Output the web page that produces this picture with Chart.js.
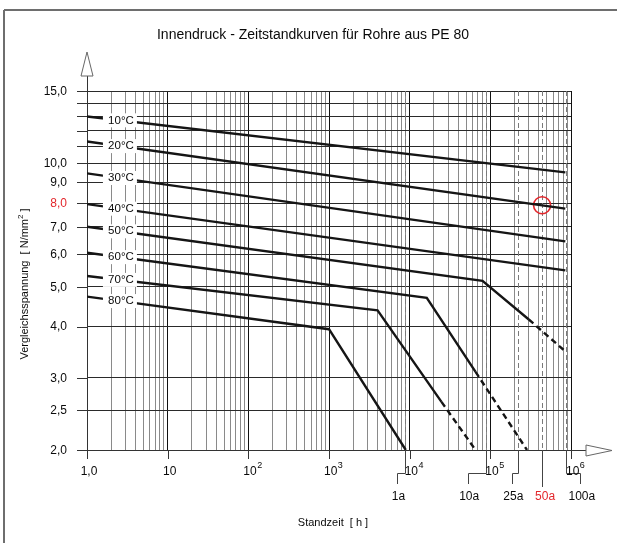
<!DOCTYPE html>
<html><head><meta charset="utf-8">
<script src="https://cdn.jsdelivr.net/npm/chart.js@4.4.0/dist/chart.umd.min.js"></script>
<style>html,body{margin:0;padding:0;background:#fff;}canvas{display:block;}</style>
</head><body>
<canvas id="c" width="617" height="543"></canvas>
<script>
// ---------- DATA ----------
const titleText = 'Innendruck - Zeitstandkurven für Rohre aus PE 80';
const xTitle = 'Standzeit  [ h ]';
const yTitle = 'Vergleichsspannung  [ N/mm';
const temperatures = ['10°C','20°C','30°C','40°C','50°C','60°C','70°C','80°C'];
// [hours, stress N/mm²]
const solid10 = [[1,13.0],[8.5e5,9.5]];
const solid20 = [[1,11.3],[8.5e5,7.75]];
const solid30 = [[1,9.45],[8.5e5,6.45]];
const solid40 = [[1,7.95],[8.5e5,5.48]];
const solid50 = [[1,7.0],[8.0e4,5.17],[3.0e5,4.16]];
const dash50  = [[3.0e5,4.16],[8.5e5,3.48]];
const solid60 = [[1,6.05],[1.63e4,4.70],[6.56e4,3.10]];
const dash60  = [[6.56e4,3.10],[2.85e5,2.0]];
const solid70 = [[1,5.31],[4000,4.38],[2.48e4,2.62]];
const dash70  = [[2.48e4,2.62],[6.56e4,2.0]];
const solid80 = [[1,4.73],[1000,3.94],[8950,2.0]];
const solidSeries = [solid10,solid20,solid30,solid40,solid50,solid60,solid70,solid80];
const dashedSeries = [dash50,dash60,dash70];
const labelHours = 2.56;
const yearLabels = ['1a','10a','25a','50a','100a'];
const yearHours = [8760, 87600, 219000, 438000, 876000];
const yTickValues = [2.0,2.5,3.0,4.0,5.0,6.0,7.0,8.0,9.0,10.0,15.0];
const yTickLabels = ['2,0','2,5','3,0','4,0','5,0','6,0','7,0','8,0','9,0','10,0','15,0'];
const yGridValues = [2,2.5,3,4,5,6,7,8,9,10,11,12,13,14,15];
const xDecades = [1,10,100,1e3,1e4,1e5,1e6];
const xTickBase = ['1,0','10','10','10','10','10','10'];
const xTickExp  = ['','','2','3','4','5','6'];
const markPoint = [[438000, 7.9]];

// ---------- STYLE ----------
const RED = '#e3262b';
const LINE = '#151515';
const TXT = '#0a0a0a';
const FONT = '"Liberation Sans", Arial, sans-serif';
const yearOffsets = [-8, -18, -6, 0, 14]; // connector shift of year labels

const xGridTicks = [];
for (let k = 0; k < 6; k++) for (let m = 1; m <= 9; m++) xGridTicks.push(m * Math.pow(10, k));
xGridTicks.push(1e6);
const isDecade = v => Math.abs(Math.log10(v) - Math.round(Math.log10(v))) < 1e-9;

function valueAt(series, t) {
  const lt = Math.log10(t);
  for (let i = 0; i < series.length - 1; i++) {
    const a = series[i], b = series[i+1];
    const la = Math.log10(a[0]), lb = Math.log10(b[0]);
    if (lt >= la && lt <= lb) {
      const f = (lt - la) / (lb - la);
      return Math.pow(10, Math.log10(a[1]) + f * (Math.log10(b[1]) - Math.log10(a[1])));
    }
  }
  return series[0][1];
}

const toXY = s => s.map(p => ({x: p[0], y: p[1]}));
const datasets = [];
solidSeries.forEach((s, i) => datasets.push({
  label: temperatures[i], data: toXY(s), showLine: true, borderColor: LINE,
  borderWidth: 2.4, pointRadius: 0, fill: false
}));
dashedSeries.forEach(s => datasets.push({
  data: toXY(s), showLine: true, borderColor: LINE, borderWidth: 2.4,
  borderDash: [6, 4], pointRadius: 0, fill: false
}));
datasets.push({
  data: toXY(markPoint), showLine: false, pointRadius: 8.5, pointHoverRadius: 8.5,
  pointBorderColor: RED, pointBackgroundColor: 'rgba(0,0,0,0)', pointBorderWidth: 1.6
});

const deco = {
  id: 'deco',
  beforeDatasetsDraw(chart) {
    const {ctx, chartArea: a, scales: {x, y}} = chart;
    const ln = (x1, y1, x2, y2) => { ctx.beginPath(); ctx.moveTo(x1, y1); ctx.lineTo(x2, y2); ctx.stroke(); };
    ctx.save();
    // frame
    ctx.strokeStyle = '#6e6e6e'; ctx.lineWidth = 2;
    ln(4, 10, 617, 10); ln(4, 10, 4, 543);
    // year dashed lines
    ctx.strokeStyle = '#7a7a7a'; ctx.lineWidth = 1; ctx.setLineDash([5, 3]);
    yearHours.forEach(h => { const px = Math.round(x.getPixelForValue(h)) + 0.5; ln(px, a.top, px, a.bottom); });
    ctx.setLineDash([]);
    // axes
    ctx.strokeStyle = '#333';
    const ax = Math.round(a.left) + 0.5, ay = Math.round(a.bottom) + 0.5;
    ln(ax, 76, ax, a.bottom + 9);
    ln(a.left - 10, ay, 587, ay);
    // y ticks extended left
    yGridValues.forEach(v => { const py = Math.round(y.getPixelForValue(v)) + 0.5; ln(a.left - 10, py, a.left, py); });
    // x decade ticks below
    xDecades.forEach(v => { const px = Math.round(x.getPixelForValue(v)) + 0.5; ln(px, a.bottom, px, a.bottom + 9); });
    // year connectors
    ctx.strokeStyle = '#444';
    yearHours.forEach((h, i) => {
      const px = Math.round(x.getPixelForValue(h)) + 0.5, off = yearOffsets[i];
      ctx.beginPath();
      if (off === 0) { ctx.moveTo(px, a.bottom); ctx.lineTo(px, a.bottom + 37); }
      else {
        ctx.moveTo(px, a.bottom); ctx.lineTo(px, a.bottom + 23.5);
        ctx.lineTo(px + off, a.bottom + 23.5); ctx.lineTo(px + off, a.bottom + 34);
      }
      ctx.stroke();
    });
    ctx.restore();
  },
  afterDatasetsDraw(chart) {
    const {ctx, chartArea: a, scales: {x, y}} = chart;
    ctx.save();
    // temperature labels on lines
    ctx.font = '11.5px ' + FONT; ctx.textAlign = 'center'; ctx.textBaseline = 'middle';
    const lx = x.getPixelForValue(labelHours);
    solidSeries.forEach((s, i) => {
      const py = y.getPixelForValue(valueAt(s, labelHours));
      ctx.fillStyle = '#fff'; ctx.fillRect(lx - 17, py - 7, 34, 14);
      ctx.fillStyle = TXT; ctx.fillText(temperatures[i], lx + 1, py);
    });
    // arrows
    ctx.fillStyle = '#fff'; ctx.strokeStyle = '#666'; ctx.lineWidth = 1;
    ctx.beginPath(); ctx.moveTo(a.left, 52); ctx.lineTo(a.left + 6, 76); ctx.lineTo(a.left - 6, 76); ctx.closePath(); ctx.fill(); ctx.stroke();
    ctx.beginPath(); ctx.moveTo(612, a.bottom + 0.5); ctx.lineTo(586, a.bottom - 5); ctx.lineTo(586, a.bottom + 6); ctx.closePath(); ctx.fill(); ctx.stroke();
    // title
    ctx.fillStyle = TXT; ctx.font = '14px ' + FONT; ctx.textAlign = 'center';
    ctx.fillText(titleText, 313, 35);
    // y tick labels
    ctx.font = '12px ' + FONT; ctx.textAlign = 'right';
    yTickValues.forEach((v, i) => {
      ctx.fillStyle = v === 8 ? RED : TXT;
      ctx.fillText(yTickLabels[i], 67, y.getPixelForValue(v) + 0.5);
    });
    // x tick labels
    ctx.fillStyle = TXT;
    xDecades.forEach((v, i) => {
      const px = x.getPixelForValue(v);
      if (!xTickExp[i]) {
        ctx.font = '12px ' + FONT; ctx.textAlign = 'center';
        ctx.fillText(xTickBase[i], px + 2, 472);
      } else {
        ctx.font = '12px ' + FONT; ctx.textAlign = 'left';
        const bx = px - 5;
        ctx.fillText(xTickBase[i], bx, 472);
        const w = ctx.measureText(xTickBase[i]).width;
        ctx.font = '9px ' + FONT;
        ctx.fillText(xTickExp[i], bx + w + 0.5, 466);
      }
    });
    // year labels
    ctx.font = '12px ' + FONT; ctx.textAlign = 'center';
    yearHours.forEach((h, i) => {
      const px = x.getPixelForValue(h) + yearOffsets[i];
      ctx.fillStyle = yearLabels[i] === '50a' ? RED : TXT;
      ctx.fillText(yearLabels[i], px + (yearOffsets[i] === 0 ? 3 : 1.5), 497);
    });
    // axis titles
    ctx.fillStyle = TXT; ctx.font = '11px ' + FONT; ctx.textAlign = 'center';
    ctx.fillText(xTitle, 333, 523);
    ctx.translate(25, 284); ctx.rotate(-Math.PI / 2);
    ctx.font = '11px ' + FONT;
    const w1 = ctx.measureText(yTitle).width;
    ctx.font = '8px ' + FONT; const w2 = ctx.measureText('2').width;
    ctx.font = '11px ' + FONT; const w3 = ctx.measureText(' ]').width;
    let sx = -(w1 + w2 + w3) / 2;
    ctx.textAlign = 'left';
    ctx.fillText(yTitle, sx, 0); sx += w1;
    ctx.font = '8px ' + FONT; ctx.fillText('2', sx, -4); sx += w2;
    ctx.font = '11px ' + FONT; ctx.fillText(' ]', sx, 0);
    ctx.restore();
  }
};

new Chart(document.getElementById('c'), {
  type: 'scatter',
  data: { datasets },
  options: {
    responsive: false, animation: false, devicePixelRatio: 1,
    layout: { padding: { left: 87, top: 91, right: 46, bottom: 93 } },
    plugins: { legend: { display: false }, tooltip: { enabled: false }, title: { display: false } },
    scales: {
      x: {
        type: 'logarithmic', min: 1, max: 1e6,
        afterBuildTicks: s => { s.ticks = xGridTicks.map(v => ({value: v})); },
        ticks: { display: false },
        grid: { drawTicks: false, lineWidth: 1, color: c => (c.tick && isDecade(c.tick.value)) ? '#111' : '#8a8a8a' },
        border: { display: false }
      },
      y: {
        type: 'logarithmic', min: 2, max: 15,
        afterBuildTicks: s => { s.ticks = yGridValues.map(v => ({value: v})); },
        ticks: { display: false },
        grid: { drawTicks: false, lineWidth: 1, color: '#2a2a2a' },
        border: { display: false }
      }
    }
  },
  plugins: [deco]
});
</script>
</body></html>
